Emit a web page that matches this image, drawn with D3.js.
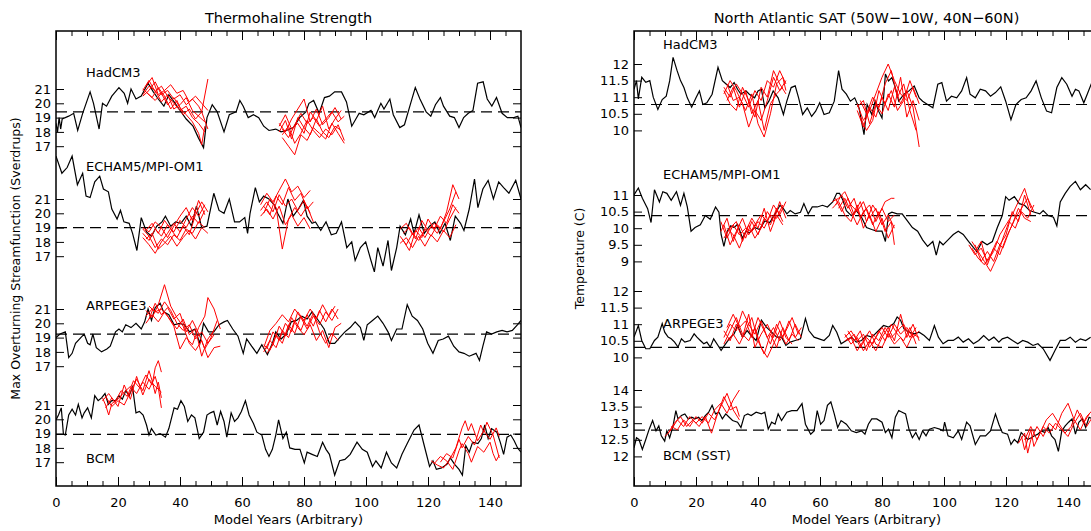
<!DOCTYPE html>
<html>
<head>
<meta charset="utf-8">
<script src="https://cdn.jsdelivr.net/npm/d3@7"></script>
<style>
  body { margin: 0; background: #fff; }
</style>
</head>
<body>
<script>
const W = 1091, H = 531;

// ---- tick values ----
const xMajor = [0, 20, 40, 60, 80, 100, 120, 140];
const xMinor = [5, 10, 15, 25, 30, 35, 45, 50, 55, 65, 70, 75, 85, 90, 95, 105, 110, 115, 125, 130, 135, 145];
const mocTicks = [17, 18, 19, 20, 21];
const satHadTicks = [10, 10.5, 11, 11.5, 12];
const satEchamTicks = [9, 9.5, 10, 10.5, 11];
const satArpegeTicks = [10, 10.5, 11, 11.5, 12];
const satBcmTicks = [12, 12.5, 13, 13.5, 14];

const models = ["HadCM3", "ECHAM5/MPI-OM1", "ARPEGE3", "BCM"];
const satModels = ["HadCM3", "ECHAM5/MPI-OM1", "ARPEGE3", "BCM (SST)"];

// long-term means (dashed lines)
const mocMeans = [19.4, 19.0, 19.25, 18.95];
const satMeans = [10.78, 10.38, 10.3, 12.79];

// ---- overturning, control runs [year, Sv] ----
const moc_had_ctrl = [[0,18.6],[0.5,18.0],[1,19.0],[1.5,18.2],[2,18.9],[4.1,19.1],[5.7,19.3],[7,18.1],[8.6,19.3],[11,20.8],[12.1,20.0],[13.9,18.2],[15,20.0],[16.3,19.8],[18,20.5],[20.3,21.1],[22,20.7],[23.1,20.0],[24.2,21.0],[25.8,20.3],[27.5,20.5],[29.7,21.4],[31.4,20.8],[33,20.3],[34.8,19.8],[36.4,20.6],[38.1,20.1],[39.7,19.6],[42,18.9],[44.2,18.4],[45.9,17.6],[47.6,16.9],[48.7,19.0],[50.4,19.9],[52,19.4],[54.2,18.0],[55.9,19.2],[58.1,19.4],[59.3,20.2],[60.4,19.8],[62,19.0],[63.7,19.2],[65.4,19.0],[67,18.4],[68.7,18.1],[70.9,18.2],[72.6,18.0],[74.3,18.1],[76.6,18.3],[78.6,19.0],[80.6,19.4],[81.6,20.0],[83.1,20.2],[84.9,19.3],[86.6,20.4],[88.2,20.5],[89.9,20.8],[92.1,20.8],[93.7,20.1],[95.4,18.4],[97.8,19.3],[99.3,19.2],[101.6,19.5],[102.8,19.0],[104.8,20.0],[105.8,19.6],[107.7,20.3],[108.8,19.2],[110.9,18.3],[112.4,18.5],[114.4,20.0],[115.9,21.1],[117.4,20.3],[119.4,19.4],[120.9,19.1],[122.4,19.9],[124,20.4],[125,19.8],[127,19.1],[128.5,19.0],[130,18.3],[131.5,19.0],[133,19.3],[134.5,19.5],[136,21.4],[137.8,21.5],[139.1,20.3],[140.6,19.8],[142.1,20.4],[143.9,19.3],[145.6,19.0],[147.7,19.0],[149,19.1],[150,18.3]];

const moc_echam_ctrl = [[0,24.0],[1.9,22.8],[3.6,23.2],[5.2,24.0],[6.9,22.0],[8.6,22.8],[9.7,21.2],[11.0,21.1],[12.5,22.2],[14.1,22.6],[15.3,21.7],[16.9,21.5],[18.0,20.3],[19.7,19.6],[20.8,20.2],[21.9,19.4],[23.6,19.3],[24.7,18.6],[26.1,17.4],[27.5,19.7],[29.2,18.7],[30.8,18.4],[32.5,19.1],[34.2,19.4],[35.3,19.8],[37.0,19.1],[38.6,19.4],[40.3,19.3],[42.0,19.8],[43.7,19.1],[45.3,20.5],[47.0,19.0],[48.7,19.1],[50.9,21.4],[52.6,20.2],[54.2,20.0],[55.9,21.0],[57.6,19.4],[59.2,19.4],[60.9,19.7],[61.8,18.6],[62.6,20.0],[64.3,21.8],[65.6,20.8],[67.0,21.2],[68.7,21.0],[70.4,20.6],[71.5,20.0],[73.2,19.3],[74.8,21.0],[76.5,19.8],[78.2,20.3],[79.8,20.9],[81.0,19.8],[82.6,19.3],[83.7,19.4],[85.4,18.8],[87.1,19.4],[88.8,18.5],[90.4,18.6],[92.1,19.4],[93.8,17.6],[95.4,18.0],[96.5,16.7],[98.2,17.6],[99.9,18.0],[101.6,16.7],[102.7,15.9],[103.8,17.6],[105.5,16.3],[107.1,18.1],[108.2,16.0],[109.9,17.6],[111.0,19.1],[112.7,18.5],[114.4,19.6],[115.5,18.6],[117.1,19.9],[118.8,18.6],[120.5,19.1],[122.2,19.4],[123.8,18.6],[125.5,19.3],[127.2,18.1],[128.8,19.8],[130.5,19.3],[131.6,18.8],[133.3,20.3],[135.0,22.4],[136.1,20.4],[137.7,21.7],[139.4,22.3],[141.1,21.0],[142.8,22.2],[144.4,21.8],[146.1,21.4],[148.3,22.3],[150,21.0]];

const moc_arpege_ctrl = [[0,19.0],[1.3,19.25],[3.0,19.4],[4.1,17.6],[5.2,17.9],[6.3,18.6],[8.0,19.0],[9.1,19.25],[10.2,18.6],[11.0,18.5],[11.9,19.25],[13.0,18.3],[14.7,18.0],[16.4,18.2],[17.5,18.4],[19.2,19.4],[20.3,19.6],[21.4,19.4],[22.5,19.9],[24.2,19.7],[25.8,20.0],[27.5,19.6],[28.6,20.1],[29.7,21.0],[30.8,20.2],[32.0,21.1],[33.6,21.4],[34.7,20.8],[36.4,20.6],[38.1,19.9],[39.8,20.0],[41.4,19.9],[43.1,19.4],[44.8,19.6],[46.4,18.6],[47.6,20.0],[49.2,19.4],[50.9,19.4],[52.6,19.9],[54.2,20.1],[55.3,20.2],[57.0,19.6],[58.7,19.1],[60.4,17.9],[61.5,18.9],[63.1,18.4],[64.8,17.9],[66.4,18.5],[68.2,17.8],[69.8,18.6],[70.9,19.4],[72.6,18.9],[74.3,19.25],[75.9,20.1],[77.6,20.2],[79.3,20.5],[81.0,20.3],[82.6,20.8],[84.3,20.3],[86.5,19.6],[88.2,18.6],[89.9,18.6],[91.5,19.0],[93.2,19.4],[94.9,19.7],[96.5,20.1],[98.2,19.7],[99.3,18.8],[100.4,19.9],[102.1,20.2],[103.8,20.5],[105.5,20.0],[107.1,19.4],[108.2,18.8],[109.9,19.6],[111.6,19.6],[113.3,21.3],[114.9,20.5],[116.6,20.2],[118.3,19.6],[119.9,18.6],[121.6,17.9],[123.3,18.8],[124.9,18.9],[126.6,19.1],[128.3,18.4],[130.0,18.0],[131.6,17.9],[133.3,17.7],[135.5,17.9],[136.6,17.4],[137.7,18.4],[138.9,19.4],[140.5,19.25],[142.2,19.4],[143.9,19.5],[145.5,19.4],[147.2,19.5],[148.9,19.9],[150,20.2]];

const moc_bcm_ctrl = [[0,19.96],[0.8,20.3],[1.7,20.8],[2.4,18.95],[3.0,18.9],[4.1,20.3],[5.2,20.7],[6.3,20.3],[7.2,21.05],[8.4,20.1],[9.1,20.45],[10.2,20.8],[11.4,20.1],[12.5,21.65],[13.6,21.3],[14.7,21.5],[15.8,21.8],[16.9,21.05],[18.0,21.3],[19.2,21.3],[20.3,21.65],[21.4,21.4],[22.5,22.0],[23.6,21.65],[24.7,22.25],[25.8,20.45],[26.9,20.55],[28.1,20.3],[29.2,19.6],[30.0,18.9],[30.8,19.35],[32.2,18.9],[33.6,19.0],[35.3,18.75],[36.4,19.35],[38.1,20.8],[39.2,20.7],[40.3,21.3],[41.4,20.9],[42.5,19.85],[43.7,20.3],[44.8,20.1],[46.2,18.65],[47.6,19.1],[48.7,20.3],[49.8,20.45],[50.9,20.55],[52.0,19.6],[53.1,20.55],[54.2,19.85],[55.1,18.75],[56.5,20.45],[57.6,19.85],[58.7,20.1],[59.8,20.55],[61.1,21.3],[62.3,20.3],[63.7,19.7],[64.8,19.1],[66.4,18.9],[67.6,17.9],[68.7,17.4],[69.8,17.9],[70.9,18.9],[71.8,19.96],[73.2,18.65],[74.3,19.1],[75.4,18.0],[77.1,17.9],[78.7,17.9],[80.1,16.95],[81.0,17.7],[82.6,17.55],[84.3,17.4],[86.0,18.4],[87.1,17.9],[88.2,17.55],[89.9,16.1],[91.5,17.1],[93.2,17.2],[94.9,17.55],[97.1,18.4],[98.8,17.9],[100.4,17.7],[102.1,16.7],[103.2,17.1],[104.9,16.6],[106.6,17.7],[108.2,16.95],[109.9,16.6],[111.6,17.55],[113.3,18.3],[115.5,19.25],[117.1,19.6],[118.8,18.15],[120.5,16.7],[121.6,17.1],[122.7,16.5],[124.4,16.6],[126.1,16.85],[127.2,17.3],[128.6,16.85],[130.0,16.5],[131.1,16.1],[132.2,18.15],[133.3,17.7],[134.4,18.4],[136.1,18.3],[137.2,18.65],[138.3,19.6],[139.4,18.65],[140.5,19.35],[142.2,19.1],[143.3,18.4],[144.4,17.55],[145.5,18.75],[146.7,18.9],[147.8,18.5],[148.9,18.0],[150,17.7]];

// ---- overturning, ensemble runs ----
const moc_had_runs = [
  [[28,20.9],[30,21.6],[32,20.8],[34,21.2],[36,20.5],[38,20.0],[40,19.5],[42,19.8],[44,19.0],[46,18.6],[48,18.0]],
  [[28,20.5],[30,20.9],[32,21.5],[34,20.6],[36,20.9],[38,20.3],[40,20.6],[42,19.9],[44,20.3],[46,19.8],[47,19.4],[49,21.7]],
  [[28,21.0],[30,20.6],[32,20.2],[34,20.7],[36,19.9],[38,20.4],[40,19.7],[42,19.2],[44,18.7],[46,17.9],[47,17.1],[48,18.4]],
  [[28,20.6],[30,21.2],[32,20.9],[34,20.1],[36,20.6],[38,19.6],[40,19.9],[42,20.4],[44,19.5],[46,19.1],[48,18.7]],
  [[29,20.8],[31,20.4],[33,21.1],[35,20.5],[37,19.6],[39,20.2],[41,19.2],[43,19.6],[45,18.9],[47,19.4],[49,18.2]],
  [[29,21.2],[31,21.8],[33,20.6],[35,20.9],[37,21.3],[39,20.7],[41,20.9],[43,20.1],[45,20.5],[47,20.0],[49,19.5]],
  [[73,18.2],[75,17.6],[77,18.5],[79,19.3],[81,18.6],[83,19.0],[85,18.4],[87,18.9],[89,19.4],[91,18.7],[93,19.1]],
  [[73,17.8],[75,18.4],[77,17.2],[79,17.9],[81,18.8],[83,18.1],[85,17.6],[87,18.2],[89,17.8],[91,18.5],[93,17.4]],
  [[72,18.6],[74,18.0],[76,18.9],[78,19.6],[80,20.3],[82,18.7],[84,19.6],[86,18.5],[88,19.0],[90,19.7],[92,18.9]],
  [[73,17.6],[75,17.0],[77,16.4],[79,17.8],[81,17.4],[83,18.3],[85,17.9],[87,17.5],[89,18.6],[91,17.9],[93,17.2]],
  [[72,18.4],[74,19.2],[76,18.2],[78,18.6],[80,17.9],[82,19.4],[84,18.8],[86,19.8],[88,18.2],[90,18.9],[92,19.5]],
  [[72,18.0],[74,18.8],[76,17.5],[78,19.0],[80,18.3],[82,17.8],[84,18.9],[86,18.0],[88,17.6],[90,18.4],[92,18.1]]
];

const moc_echam_runs = [
  [[28,18.6],[30,18.1],[32,18.9],[34,18.4],[36,19.2],[38,18.7],[40,19.5],[42,19.0],[44,19.8],[46,19.3],[48,20.2]],
  [[28,18.9],[30,18.4],[32,17.6],[34,18.2],[36,17.8],[38,18.5],[40,18.1],[42,18.9],[44,18.6],[46,19.4],[48,19.0]],
  [[28,18.3],[30,17.8],[32,17.2],[34,18.0],[36,18.6],[38,19.3],[40,18.7],[42,19.6],[44,20.4],[46,19.8],[48,20.6]],
  [[29,18.8],[31,19.3],[33,18.6],[35,19.5],[37,18.9],[39,18.3],[41,19.1],[43,18.5],[45,19.9],[47,20.8],[49,20.1]],
  [[29,18.2],[31,18.6],[33,17.5],[35,17.9],[37,18.4],[39,17.7],[41,18.3],[43,18.8],[45,18.2],[47,19.0],[49,18.6]],
  [[28,19.0],[30,18.7],[32,19.4],[34,19.0],[36,18.3],[38,19.1],[40,19.8],[42,20.4],[44,19.5],[46,20.9],[48,19.9]],
  [[66,20.2],[68,20.8],[70,20.1],[72,21.3],[74,20.5],[76,21.0],[78,20.2],[80,20.9],[82,20.0]],
  [[66,19.8],[68,20.3],[70,19.6],[72,20.5],[74,19.2],[76,19.9],[78,19.1],[80,19.7],[82,18.9]],
  [[66,20.6],[68,21.4],[70,20.8],[72,21.6],[74,22.4],[76,21.5],[78,21.9],[80,21.1],[82,21.6]],
  [[67,20.0],[69,21.0],[71,20.4],[73,17.5],[75,19.6],[77,20.4],[79,19.8],[81,20.5],[83,19.4]],
  [[67,20.5],[69,19.9],[71,21.2],[73,20.6],[75,21.8],[77,20.9],[79,21.4],[81,20.3],[83,20.8]],
  [[111,18.4],[113,17.8],[115,18.6],[117,18.1],[119,18.9],[121,18.4],[123,19.2],[125,18.7],[127,19.6],[129,20.4]],
  [[111,18.9],[113,19.3],[115,18.5],[117,19.0],[119,18.3],[121,19.1],[123,18.6],[125,19.4],[127,20.3],[129,21.5]],
  [[111,17.9],[113,18.3],[115,17.6],[117,18.4],[119,17.7],[121,18.5],[123,18.0],[125,18.8],[127,18.3],[129,19.2]],
  [[112,18.6],[114,19.0],[116,18.2],[118,19.5],[120,18.8],[122,19.3],[124,18.9],[126,20.1],[128,22.0],[130,21.0]],
  [[112,18.1],[114,17.4],[116,18.8],[118,18.3],[120,19.6],[122,18.9],[124,19.8],[126,19.3],[128,20.6],[130,20.0]]
];

const moc_arpege_runs = [
  [[29,20.5],[31,21.0],[33,20.7],[35,21.5],[37,20.9],[39,20.0],[41,19.5],[43,19.9],[45,18.9],[47,19.4],[49,18.6],[51,19.2]],
  [[29,20.9],[31,20.4],[33,21.3],[35,22.7],[37,21.2],[39,20.4],[41,19.8],[43,18.6],[45,18.1],[47,18.8],[49,17.6],[51,18.3],[53,18.4]],
  [[30,21.2],[32,20.8],[34,21.0],[36,20.5],[38,19.8],[40,18.2],[42,19.0],[44,18.5],[46,19.7],[48,20.5],[49,21.8],[51,21.0],[53,19.6]],
  [[30,20.3],[32,21.4],[34,20.6],[36,21.1],[38,20.3],[40,20.7],[42,19.4],[44,20.2],[46,19.3],[48,18.2],[50,19.0],[52,20.2]],
  [[29,20.0],[31,20.6],[33,20.1],[35,20.8],[37,20.2],[39,19.6],[41,20.3],[43,19.2],[45,19.6],[47,17.7],[49,18.9],[51,19.5]],
  [[67,18.0],[69,18.8],[71,18.3],[73,19.5],[75,19.0],[77,20.2],[79,19.5],[81,20.6],[83,19.8],[85,20.9],[87,20.1],[89,21.0],[91,20.3]],
  [[67,18.5],[69,18.1],[71,19.2],[73,18.6],[75,19.9],[77,19.3],[79,20.5],[81,19.8],[83,20.7],[85,19.4],[87,18.6],[89,19.3],[91,18.8]],
  [[68,18.2],[70,19.4],[72,18.8],[74,20.0],[76,19.4],[78,20.8],[80,20.2],[82,21.0],[84,20.3],[86,21.3],[88,20.5],[90,21.2]],
  [[68,17.9],[70,18.5],[72,19.8],[74,19.1],[76,20.4],[78,19.7],[80,19.2],[82,19.9],[84,18.8],[86,19.5],[88,18.3],[90,19.7],[92,20.0]],
  [[67,18.3],[69,19.5],[71,20.0],[73,20.6],[75,20.1],[77,21.0],[79,20.4],[81,19.6],[83,20.5],[85,19.9],[87,20.8],[89,20.2],[91,21.0]]
];

const moc_bcm_runs = [
  [[15,21.5],[16,21.0],[17,20.3],[18,21.1],[20,21.4],[22,21.9],[24,22.3],[26,21.8],[28,22.6],[30,22.1],[32,23.0],[33,22.2],[34,20.8]],
  [[15,21.3],[17,21.8],[19,21.2],[21,22.0],[23,21.6],[25,22.7],[27,22.2],[29,23.1],[31,22.4],[32,23.6],[33,24.1],[34,23.3]],
  [[16,21.6],[18,20.9],[20,21.3],[22,21.0],[24,21.9],[26,22.8],[28,22.0],[30,23.4],[31,22.7],[32,21.8],[33,22.6],[34,21.5]],
  [[16,20.8],[18,21.5],[20,20.9],[22,22.4],[24,21.4],[26,23.0],[28,21.7],[30,22.8],[32,22.3],[34,21.9]],
  [[121,17.1],[123,16.8],[125,16.6],[127,17.2],[129,18.0],[131,19.4],[132,19.9],[133,19.2],[134,19.7],[136,18.5],[138,19.2],[140,18.6],[142,19.4],[143,18.8]],
  [[122,16.9],[124,17.4],[126,17.1],[128,16.5],[130,17.8],[131,18.3],[133,17.6],[134,17.0],[136,18.1],[138,17.7],[140,18.4],[141,17.6],[142,17.1],[143,17.5]],
  [[124,17.0],[126,17.6],[128,17.3],[130,18.6],[131,18.0],[133,18.8],[135,18.2],[137,19.6],[138,19.1],[139,19.8],[141,18.9],[143,17.3]]
];

// ---- North Atlantic SAT, control runs [year, degC] ----
const sat_had_ctrl = [[0,11.24],[0.8,11.5],[1.4,10.95],[2.5,11.6],[3.8,11.45],[5.1,11.5],[6.2,11.0],[7.7,10.63],[9.1,10.93],[10.4,11.03],[11.5,11.49],[12.6,12.2],[13.9,11.8],[15.0,11.5],[16.1,11.29],[17.2,10.98],[18.6,10.7],[20.0,10.98],[21.1,11.19],[22.2,10.78],[23.5,10.83],[25.2,11.09],[27.1,11.9],[28.5,11.5],[29.8,11.39],[31.0,11.29],[32.3,11.44],[33.4,11.24],[34.5,11.09],[36.1,11.19],[37.2,11.09],[38.9,10.98],[40.0,11.19],[41.1,11.24],[42.2,10.68],[43.5,10.88],[44.9,11.19],[46.5,10.98],[48.2,10.48],[49.3,10.88],[50.7,11.29],[52.0,11.34],[53.1,10.98],[54.4,10.48],[55.9,10.68],[57.3,10.42],[58.6,10.58],[59.9,10.83],[61.3,10.48],[63.0,10.53],[64.6,10.88],[66.0,11.8],[67.1,11.24],[68.5,11.09],[69.8,10.88],[71.2,10.98],[72.6,10.68],[74.2,9.87],[75.2,10.78],[76.7,10.48],[77.8,10.88],[78.9,10.58],[80.0,10.37],[81.1,11.7],[82.1,11.49],[83.2,11.59],[84.3,11.29],[85.4,10.88],[87.1,11.09],[88.7,11.19],[90.4,11.34],[92.0,10.98],[93.1,10.88],[94.7,10.78],[96.4,10.68],[98.0,11.39],[99.3,11.44],[100.8,10.88],[102.4,11.03],[104.1,10.98],[105.7,11.19],[107.3,11.59],[108.4,11.09],[110.1,10.98],[111.7,11.24],[113.4,11.19],[115.0,11.03],[116.6,11.14],[118.3,11.31],[119.9,10.88],[121.6,10.32],[123.2,10.78],[124.9,10.93],[126.5,10.98],[128.1,11.19],[129.7,11.49],[131.4,10.98],[133.1,10.58],[134.7,10.53],[136.4,11.29],[138.0,11.59],[139.6,11.39],[141.3,11.03],[142.4,11.24],[143.5,11.19],[145.1,10.83],[146.2,11.09],[147.9,11.49]];

const sat_echam_ctrl = [[0,11.0],[1.4,11.21],[2.7,10.9],[4.4,10.59],[5.5,10.17],[6.6,11.16],[8.2,10.79],[9.3,11.1],[10.6,11.05],[12.0,10.84],[13.7,11.1],[15.0,10.69],[16.1,11.05],[17.2,10.64],[18.4,9.91],[19.7,10.02],[21.4,10.1],[23.0,10.38],[24.6,10.27],[26.3,10.64],[27.4,10.48],[28.1,9.81],[29.0,9.45],[30.1,9.91],[31.2,10.07],[32.3,10.02],[33.4,10.12],[35.0,9.7],[36.1,9.91],[37.2,9.86],[38.9,10.02],[40.5,9.96],[42.2,10.22],[43.8,10.17],[45.5,10.43],[47.1,10.69],[48.2,10.59],[49.3,10.43],[50.4,10.53],[52.0,10.43],[53.7,10.48],[54.8,10.74],[56.2,10.43],[57.5,10.64],[59.1,10.64],[60.8,10.69],[62.4,10.64],[64.1,10.79],[65.4,11.05],[66.3,11.05],[67.4,10.84],[68.5,10.53],[70.1,10.38],[71.7,10.53],[73.4,10.33],[75.0,10.02],[76.7,9.96],[78.3,9.91],[80.0,9.91],[81.1,9.6],[82.1,10.43],[83.2,10.48],[84.9,10.43],[86.5,10.43],[88.2,10.22],[89.8,10.02],[91.5,9.91],[93.1,9.65],[94.7,9.45],[96.4,9.6],[97.5,9.19],[98.6,9.6],[99.7,9.5],[101.3,9.65],[103.0,9.81],[104.6,9.91],[106.2,9.81],[107.9,9.6],[109.2,9.45],[110.6,9.29],[112.3,9.6],[113.9,9.5],[115.6,9.6],[117.2,10.02],[118.8,10.38],[119.9,10.95],[121.0,10.84],[122.7,10.95],[124.3,10.74],[126.0,10.69],[127.6,10.53],[129.2,10.48],[130.9,10.43],[132.0,10.53],[133.6,10.38],[135.3,10.33],[136.4,10.07],[137.5,10.79],[139.1,11.05],[140.7,11.26],[142.4,11.41],[144.0,11.16],[145.7,11.31],[147.3,11.16]];

const sat_arpege_ctrl = [[0,10.61],[1.4,10.96],[2.5,10.51],[3.8,10.26],[5.1,10.26],[6.6,10.51],[7.7,10.61],[9.1,11.02],[9.9,10.76],[11.0,10.61],[12.0,10.56],[13.1,10.46],[14.2,10.31],[15.3,10.56],[16.4,10.46],[18.1,10.51],[19.4,10.71],[20.3,10.61],[21.4,10.51],[22.5,10.41],[23.5,10.46],[24.6,10.31],[25.7,10.56],[27.1,10.36],[28.1,10.21],[29.2,10.36],[30.7,10.56],[32.3,10.71],[33.4,10.96],[35.0,10.61],[36.5,10.81],[37.8,10.66],[39.4,10.51],[41.1,11.12],[42.7,10.91],[44.4,10.76],[46.0,10.61],[47.6,10.61],[49.0,10.36],[50.4,10.46],[52.0,10.51],[53.7,10.56],[55.3,11.17],[56.4,10.81],[58.1,10.61],[59.7,10.56],[61.3,10.51],[63.0,10.66],[64.1,10.96],[65.4,10.76],[66.8,10.41],[68.5,10.51],[70.1,10.61],[71.7,10.46],[73.4,10.51],[75.0,10.66],[76.7,10.61],[77.8,10.71],[78.9,10.81],[80.5,10.96],[82.1,10.91],[83.8,11.02],[84.9,11.22],[86.0,11.12],[87.1,10.86],[88.7,10.76],[90.4,10.71],[92.0,10.76],[93.6,10.66],[95.3,10.51],[96.9,10.96],[98.2,10.61],[99.7,10.41],[101.3,10.51],[103.0,10.51],[104.6,10.61],[106.2,10.46],[107.9,10.56],[109.5,10.41],[111.2,10.51],[112.8,10.66],[114.5,10.51],[116.1,10.61],[117.7,10.46],[118.8,10.56],[120.5,10.61],[122.1,10.51],[123.8,10.41],[125.4,10.51],[127.0,10.46],[128.7,10.36],[130.3,10.41],[132.0,10.26],[134.2,9.91],[135.8,10.21],[137.5,10.51],[139.1,10.51],[140.7,10.61],[142.4,10.46],[144.0,10.56],[145.7,10.51],[147.3,10.61]];

const sat_bcm_ctrl = [[0,12.26],[0.8,12.56],[1.6,12.51],[2.7,12.21],[3.8,12.51],[4.9,12.82],[6.0,13.08],[7.1,12.77],[8.0,12.92],[8.8,12.62],[9.9,12.46],[10.6,12.77],[11.5,12.56],[12.6,12.92],[13.5,13.38],[14.2,13.13],[15.3,13.23],[16.4,13.28],[17.5,13.13],[18.6,13.18],[19.7,13.13],[20.8,13.18],[21.9,13.08],[23.0,13.23],[24.1,13.33],[25.2,13.54],[26.3,13.28],[27.4,13.33],[28.5,13.13],[29.6,13.28],[30.7,13.18],[31.8,13.08],[33.4,13.03],[34.5,12.87],[35.6,13.23],[36.7,13.28],[37.8,13.23],[39.4,13.33],[41.1,13.28],[42.2,13.33],[43.3,12.82],[44.4,13.03],[45.5,12.97],[46.5,13.28],[47.6,13.08],[49.3,13.33],[50.9,13.38],[52.6,13.38],[54.2,13.59],[55.3,12.97],[57.0,12.67],[58.1,12.77],[59.1,13.38],[60.2,12.97],[61.3,13.08],[62.4,13.54],[63.5,13.64],[64.6,13.28],[65.7,12.87],[66.8,13.08],[68.5,12.97],[70.1,12.77],[71.7,12.72],[73.4,12.77],[74.5,12.67],[75.6,12.97],[76.7,13.13],[78.3,13.13],[80.0,13.03],[81.1,12.72],[82.1,12.82],[83.2,12.56],[84.3,13.18],[85.4,13.38],[86.5,13.33],[87.6,13.28],[88.7,12.82],[89.8,12.56],[90.9,12.72],[92.0,12.51],[93.1,12.77],[94.2,12.62],[95.3,12.82],[96.9,12.87],[98.6,12.82],[99.7,12.77],[100.2,13.03],[101.3,12.62],[103.0,12.56],[104.6,12.77],[105.7,12.51],[107.3,13.03],[108.4,12.92],[110.1,12.36],[111.7,12.62],[113.4,12.62],[115.0,12.77],[116.6,13.28],[117.7,12.97],[118.8,12.72],[120.5,12.67],[121.6,12.36],[122.7,12.51],[123.8,12.41],[124.9,12.72],[126.0,12.62],[127.0,12.51],[128.1,12.56],[129.2,12.62],[130.3,12.67],[131.4,12.77],[132.5,12.72],[133.6,12.87],[134.7,12.62],[135.8,12.51],[136.9,12.15],[138.0,12.77],[139.1,12.92],[140.2,13.03],[141.3,13.13],[142.4,12.67],[143.5,13.03],[144.6,13.13],[145.7,12.87],[146.8,13.18],[147.9,13.13]];

// ---- North Atlantic SAT, ensemble runs ----
const sat_had_runs = [
  [[29,11.3],[31,11.0],[33,11.4],[35,11.1],[37,10.7],[39,11.2],[41,10.9],[43,11.5],[45,11.3],[47,11.8],[49,11.4]],
  [[29,11.1],[31,11.5],[33,11.2],[35,10.8],[37,10.1],[39,10.6],[41,10.3],[43,10.9],[45,11.6],[47,11.2],[49,11.5]],
  [[30,11.4],[32,10.9],[34,11.0],[36,10.6],[38,11.1],[40,10.2],[42,9.8],[44,10.5],[46,11.4],[48,11.6],[49,11.2]],
  [[30,10.9],[32,11.3],[34,10.7],[36,11.2],[38,10.5],[40,10.9],[42,10.0],[44,10.8],[46,11.1],[48,11.3]],
  [[29,11.2],[31,10.8],[33,10.6],[35,11.3],[37,10.9],[39,10.4],[41,11.3],[43,11.0],[45,11.8],[47,11.4],[49,11.1]],
  [[72,10.8],[74,10.3],[76,10.6],[78,11.1],[80,11.6],[82,12.0],[84,11.5],[86,11.1],[88,10.9],[90,11.3],[92,10.8]],
  [[72,10.6],[74,10.1],[76,10.7],[78,10.4],[80,11.0],[82,10.6],[84,11.3],[86,10.8],[88,11.2],[90,10.7],[92,9.5]],
  [[73,10.9],[75,10.5],[77,11.0],[79,10.7],[81,11.4],[83,11.8],[85,11.0],[87,11.4],[89,10.6],[91,10.0]],
  [[73,10.4],[75,10.0],[77,10.3],[79,11.2],[81,10.8],[83,11.2],[85,10.6],[87,10.9],[89,11.5],[91,11.0]],
  [[72,10.7],[74,10.9],[76,10.2],[78,10.8],[80,10.5],[82,11.1],[84,10.7],[86,11.6],[88,10.4],[90,10.9],[92,10.3]]
];

const sat_echam_runs = [
  [[28,10.2],[30,9.7],[32,10.1],[34,9.8],[36,10.0],[38,9.9],[40,10.2],[42,10.0],[44,10.4],[46,10.3],[48,10.7]],
  [[28,9.9],[30,10.3],[32,9.6],[34,10.1],[36,9.7],[38,10.2],[40,9.8],[42,10.3],[44,10.1],[46,10.6],[48,10.2]],
  [[29,10.1],[31,9.5],[33,9.9],[35,10.3],[37,9.8],[39,10.1],[41,10.4],[43,10.2],[45,10.7],[47,10.4],[49,10.8]],
  [[29,9.7],[31,10.0],[33,10.2],[35,9.6],[37,10.1],[39,9.7],[41,10.0],[43,10.5],[45,10.2],[47,10.8],[49,10.3]],
  [[30,10.0],[32,9.8],[34,9.4],[36,9.9],[38,10.3],[40,10.0],[42,10.6],[44,9.9],[46,10.4],[48,10.1]],
  [[64,10.8],[66,10.9],[68,11.1],[70,10.7],[72,10.5],[74,10.8],[76,10.3],[78,10.6],[80,10.1],[82,10.4],[84,10.0]],
  [[65,10.7],[67,11.0],[69,10.6],[71,10.9],[73,10.3],[75,10.6],[77,10.1],[79,10.5],[81,9.9],[83,10.2],[84,9.5]],
  [[64,10.6],[66,10.8],[68,10.4],[70,10.2],[72,10.7],[74,10.0],[76,10.4],[78,9.9],[80,10.3],[82,9.7],[84,10.1]],
  [[65,10.9],[67,10.5],[69,10.9],[71,10.4],[73,10.8],[75,10.2],[77,10.7],[79,10.4],[81,10.8],[83,10.9],[84,10.9]],
  [[66,10.6],[68,10.9],[70,10.5],[72,10.1],[74,10.5],[76,10.7],[78,10.2],[80,10.6],[82,10.2],[84,10.4]],
  [[108,9.5],[110,9.2],[112,9.4],[114,9.0],[116,9.3],[118,9.8],[120,10.1],[122,10.4],[124,10.8],[126,11.2],[128,10.6]],
  [[109,9.4],[111,9.1],[113,8.9],[115,9.2],[117,9.6],[119,9.4],[121,9.9],[123,10.3],[125,10.6],[127,10.9],[129,10.5]],
  [[109,9.6],[111,9.3],[113,9.0],[115,8.7],[117,9.1],[119,9.7],[121,10.2],[123,10.0],[125,10.5],[127,10.3],[129,10.7]],
  [[110,9.5],[112,9.0],[114,9.3],[116,9.0],[118,9.5],[120,9.8],[122,10.5],[124,10.2],[126,11.0],[128,10.4]],
  [[110,9.3],[112,9.6],[114,8.9],[116,9.4],[118,9.2],[120,9.7],[122,10.1],[124,10.6],[126,10.3],[128,10.2]]
];

const sat_arpege_runs = [
  [[29,10.6],[31,11.0],[33,10.8],[35,11.4],[37,11.0],[39,10.7],[41,11.1],[43,10.6],[45,10.9],[47,10.5],[49,10.8],[51,11.2],[53,10.7]],
  [[29,10.4],[31,10.8],[33,11.2],[35,10.7],[37,10.5],[39,10.9],[41,10.3],[43,10.0],[45,10.4],[47,10.8],[49,10.4],[51,10.7],[53,10.5]],
  [[30,10.9],[32,11.3],[34,10.9],[36,11.1],[38,10.6],[40,11.2],[42,10.8],[44,10.4],[46,11.0],[48,10.6],[50,11.1],[52,10.6],[54,10.9]],
  [[30,10.5],[32,10.7],[34,10.4],[36,10.8],[38,11.2],[40,10.5],[42,10.1],[44,10.7],[46,10.3],[48,10.9],[50,10.5],[52,11.0],[54,10.6]],
  [[29,10.8],[31,10.5],[33,11.0],[35,10.6],[37,11.3],[39,10.3],[41,10.7],[43,11.0],[45,10.6],[47,11.1],[49,10.6],[51,10.4]],
  [[68,10.6],[70,10.8],[72,10.5],[74,10.7],[76,10.3],[78,10.6],[80,10.9],[82,10.6],[84,11.0],[86,10.7],[88,10.9],[90,10.6],[92,10.8]],
  [[68,10.7],[70,10.4],[72,10.6],[74,10.2],[76,10.5],[78,10.2],[80,10.6],[82,10.9],[84,10.5],[86,11.3],[88,10.6],[90,11.0],[92,10.5]],
  [[69,10.5],[71,10.7],[73,10.3],[75,10.6],[77,10.4],[79,10.8],[81,10.5],[83,11.0],[85,10.7],[87,10.5],[89,10.9],[91,10.4]],
  [[69,10.8],[71,10.5],[73,10.8],[75,10.2],[77,10.7],[79,10.5],[81,10.9],[83,10.6],[85,10.8],[87,11.0],[89,10.6],[91,10.9]],
  [[68,10.5],[70,10.6],[72,10.2],[74,10.5],[76,10.8],[78,10.4],[80,10.3],[82,10.7],[84,10.4],[86,10.6],[88,10.3],[90,10.7],[92,10.6]]
];

const sat_bcm_runs = [
  [[10,12.6],[12,12.8],[14,13.1],[16,12.9],[18,13.2],[20,13.0],[22,13.2],[24,13.0],[26,13.4],[28,13.6],[30,13.3],[32,13.7],[34,14.0]],
  [[11,12.7],[13,13.0],[15,13.2],[17,12.9],[19,13.1],[21,12.9],[23,13.2],[25,12.7],[27,13.3],[29,13.8],[31,13.4],[33,13.5],[34,13.2]],
  [[12,12.9],[14,12.8],[16,13.1],[18,12.9],[20,13.2],[22,13.0],[24,13.3],[26,13.1],[28,13.5],[30,13.9],[32,13.4],[34,13.1]],
  [[124,12.4],[126,12.7],[127,12.1],[128,12.5],[130,12.9],[132,12.6],[134,13.0],[136,12.8],[138,13.3],[140,13.6],[142,13.1],[144,12.8],[146,13.2],[148,13.4]],
  [[125,12.6],[126,12.2],[128,12.8],[129,12.3],[131,12.7],[133,13.1],[135,13.3],[137,13.0],[139,12.7],[141,12.9],[143,13.4],[145,13.0],[147,13.3]],
  [[126,12.5],[128,12.9],[130,12.5],[132,12.9],[134,12.7],[136,13.0],[138,12.8],[140,12.6],[142,13.0],[144,13.3],[146,12.9],[148,13.2]]
];

// ---- layout ----
const boxTop = 31, boxBottom = 486;
const FONT = "'DejaVu Sans', sans-serif";

const panels = [
  {
    x0: 56, x1: 521,
    title: "Thermohaline Strength",
    ylabel: "Max Overturning Streamfunction (Sverdrups)", ylabelX: 20,
    bands: [
      { name: models[0], ticks: mocTicks, yTop: 89, yBot: 146.2, ctrl: moc_had_ctrl, runs: moc_had_runs, mean: mocMeans[0], lx: 86, ly: 77 },
      { name: models[1], ticks: mocTicks, yTop: 199, yBot: 256.2, ctrl: moc_echam_ctrl, runs: moc_echam_runs, mean: mocMeans[1], lx: 86, ly: 171 },
      { name: models[2], ticks: mocTicks, yTop: 309, yBot: 366.2, ctrl: moc_arpege_ctrl, runs: moc_arpege_runs, mean: mocMeans[2], lx: 86, ly: 310 },
      { name: models[3], ticks: mocTicks, yTop: 405, yBot: 462.2, ctrl: moc_bcm_ctrl, runs: moc_bcm_runs, mean: mocMeans[3], lx: 86, ly: 463 }
    ]
  },
  {
    x0: 634, x1: 1099,
    title: "North Atlantic SAT (50W\u221210W, 40N\u221260N)",
    ylabel: "Temperature (C)", ylabelX: 584,
    bands: [
      { name: satModels[0], ticks: satHadTicks, yTop: 64, yBot: 130.4, ctrl: sat_had_ctrl, runs: sat_had_runs, mean: satMeans[0], lx: 663, ly: 49 },
      { name: satModels[1], ticks: satEchamTicks, yTop: 195, yBot: 261.4, ctrl: sat_echam_ctrl, runs: sat_echam_runs, mean: satMeans[1], lx: 663, ly: 179 },
      { name: satModels[2], ticks: satArpegeTicks, yTop: 291, yBot: 357.4, ctrl: sat_arpege_ctrl, runs: sat_arpege_runs, mean: satMeans[2], lx: 663, ly: 328 },
      { name: satModels[3], ticks: satBcmTicks, yTop: 390, yBot: 456.4, ctrl: sat_bcm_ctrl, runs: sat_bcm_runs, mean: satMeans[3], lx: 663, ly: 460 }
    ]
  }
];

const svg = d3.select("body").append("svg")
  .attr("width", W)
  .attr("height", H)
  .style("display", "block");

const fmt = d3.format("~g");

function styleAxis(g) {
  g.select(".domain").remove();
  g.attr("font-family", FONT).attr("font-size", 13);
  g.selectAll(".tick line").attr("stroke", "#000");
  g.selectAll(".tick text").attr("fill", "#000");
}

panels.forEach((p, i) => {
  const x = d3.scaleLinear().domain([0, 150]).range([p.x0, p.x1]);
  const g = svg.append("g");

  svg.append("clipPath").attr("id", "clip" + i)
    .append("rect")
      .attr("x", p.x0).attr("y", boxTop)
      .attr("width", p.x1 - p.x0).attr("height", boxBottom - boxTop);

  const plot = g.append("g").attr("clip-path", `url(#clip${i})`);

  p.bands.forEach(b => {
    const y = d3.scaleLinear()
      .domain([d3.min(b.ticks), d3.max(b.ticks)])
      .range([b.yBot, b.yTop]);
    const line = d3.line().x(d => x(d[0])).y(d => y(d[1]));

    // mean
    plot.append("line")
      .attr("x1", x(0)).attr("x2", x(150))
      .attr("y1", y(b.mean)).attr("y2", y(b.mean))
      .attr("stroke", "#000")
      .attr("stroke-width", 1.2)
      .attr("stroke-dasharray", "11,6");

    // control run
    plot.append("path")
      .datum(b.ctrl)
      .attr("d", line)
      .attr("fill", "none")
      .attr("stroke", "#000")
      .attr("stroke-width", 1.2);

    // ensembles
    plot.selectAll(null)
      .data(b.runs)
      .join("path")
        .attr("d", line)
        .attr("fill", "none")
        .attr("stroke", "#ff0000")
        .attr("stroke-width", 1);

    // y ticks, both sides
    g.append("g")
      .attr("transform", `translate(${p.x0},0)`)
      .call(d3.axisLeft(y).tickValues(b.ticks).tickSize(-8).tickPadding(5).tickFormat(fmt))
      .call(styleAxis);
    g.append("g")
      .attr("transform", `translate(${p.x1},0)`)
      .call(d3.axisRight(y).tickValues(b.ticks).tickSize(-8).tickFormat(""))
      .call(styleAxis);

    g.append("text")
      .attr("x", b.lx).attr("y", b.ly)
      .attr("font-family", FONT).attr("font-size", 13)
      .text(b.name);
  });

  // x axes, bottom and top
  g.append("g")
    .attr("transform", `translate(0,${boxBottom})`)
    .call(d3.axisBottom(x).tickValues(xMinor).tickSize(-5).tickFormat(""))
    .call(styleAxis);
  g.append("g")
    .attr("transform", `translate(0,${boxBottom})`)
    .call(d3.axisBottom(x).tickValues(xMajor).tickSize(-9).tickPadding(12).tickFormat(fmt))
    .call(styleAxis);
  g.append("g")
    .attr("transform", `translate(0,${boxTop})`)
    .call(d3.axisTop(x).tickValues(xMinor).tickSize(-5).tickFormat(""))
    .call(styleAxis);
  g.append("g")
    .attr("transform", `translate(0,${boxTop})`)
    .call(d3.axisTop(x).tickValues(xMajor).tickSize(-9).tickFormat(""))
    .call(styleAxis);

  // frame
  g.append("rect")
    .attr("x", p.x0).attr("y", boxTop)
    .attr("width", p.x1 - p.x0).attr("height", boxBottom - boxTop)
    .attr("fill", "none")
    .attr("stroke", "#000")
    .attr("stroke-width", 1.5);

  // titles
  g.append("text")
    .attr("x", (p.x0 + p.x1) / 2).attr("y", 23)
    .attr("text-anchor", "middle")
    .attr("font-family", FONT).attr("font-size", 14.5)
    .text(p.title);

  g.append("text")
    .attr("x", (p.x0 + p.x1) / 2).attr("y", 524)
    .attr("text-anchor", "middle")
    .attr("font-family", FONT).attr("font-size", 13)
    .text("Model Years (Arbitrary)");

  g.append("text")
    .attr("transform", `translate(${p.ylabelX},${(boxTop + boxBottom) / 2}) rotate(-90)`)
    .attr("text-anchor", "middle")
    .attr("font-family", FONT).attr("font-size", 12.5)
    .text(p.ylabel);
});
</script>
</body>
</html>
